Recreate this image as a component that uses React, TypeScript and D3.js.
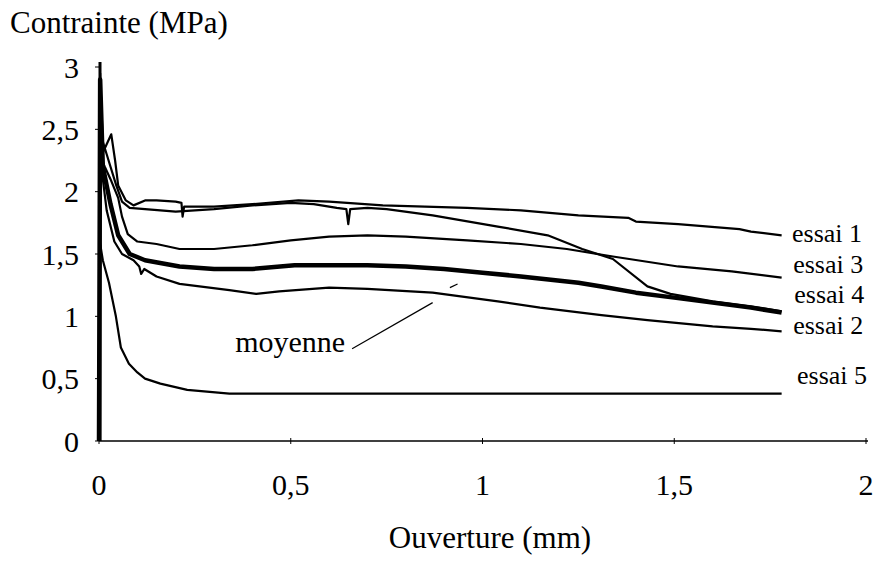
import React from "react";
import * as d3 from "d3";

type Pt = [number, number];

// ouverture (mm), contrainte (MPa)
const essai1: Pt[] = [
  [0, 0], [0.003, 2.95], [0.008, 2.3], [0.02, 2.38], [0.032, 2.46], [0.042, 2.25],
  [0.05, 2.05], [0.07, 1.93], [0.09, 1.89], [0.12, 1.93], [0.15, 1.93], [0.2, 1.92],
  [0.215, 1.91], [0.218, 1.8], [0.222, 1.88], [0.3, 1.88], [0.4, 1.9], [0.52, 1.93],
  [0.6, 1.92], [0.74, 1.89], [0.96, 1.87], [1.1, 1.85], [1.25, 1.81], [1.38, 1.79],
  [1.4, 1.76], [1.51, 1.74], [1.67, 1.7], [1.7, 1.68], [1.78, 1.65],
];
const essai3: Pt[] = [
  [0, 0], [0.003, 2.8], [0.008, 2.25], [0.015, 2.2], [0.03, 2.1], [0.05, 1.95],
  [0.06, 1.8], [0.075, 1.66], [0.1, 1.6], [0.15, 1.58], [0.21, 1.54], [0.3, 1.54],
  [0.4, 1.57], [0.5, 1.61], [0.6, 1.64], [0.7, 1.65], [0.8, 1.64], [0.96, 1.61],
  [1.1, 1.58], [1.22, 1.54], [1.34, 1.48], [1.51, 1.4], [1.65, 1.36], [1.78, 1.31],
];
const essai4: Pt[] = [
  [0, 0], [0.003, 2.9], [0.01, 2.4], [0.02, 2.3], [0.03, 2.2], [0.045, 2.05],
  [0.06, 1.92], [0.08, 1.87], [0.12, 1.86], [0.2, 1.84], [0.3, 1.86], [0.4, 1.89],
  [0.5, 1.91], [0.56, 1.9], [0.62, 1.87], [0.645, 1.86], [0.65, 1.74], [0.655, 1.86],
  [0.7, 1.87], [0.75, 1.86], [0.87, 1.81], [1.04, 1.72], [1.17, 1.65], [1.26, 1.54],
  [1.34, 1.46], [1.43, 1.24], [1.49, 1.18], [1.6, 1.12], [1.7, 1.08], [1.78, 1.04],
];
const essai2: Pt[] = [
  [0, 0], [0.003, 2.7], [0.01, 2.1], [0.02, 1.85], [0.04, 1.6], [0.06, 1.5],
  [0.09, 1.45], [0.105, 1.4], [0.11, 1.34], [0.118, 1.38], [0.15, 1.32], [0.21, 1.26],
  [0.34, 1.21], [0.41, 1.18], [0.47, 1.2], [0.6, 1.23], [0.7, 1.22], [0.87, 1.19],
  [1.04, 1.12], [1.15, 1.07], [1.31, 1.01], [1.43, 0.97], [1.6, 0.92], [1.7, 0.9],
  [1.78, 0.88],
];
const essai5: Pt[] = [
  [0, 0], [0.002, 1.6], [0.01, 1.45], [0.026, 1.27], [0.044, 1.0], [0.057, 0.75],
  [0.078, 0.62], [0.1, 0.55], [0.12, 0.5], [0.16, 0.46], [0.23, 0.41], [0.34, 0.38],
  [0.6, 0.38], [1.0, 0.38], [1.4, 0.38], [1.78, 0.38],
];
const moyenne: Pt[] = [
  [0, 0], [0.003, 2.9], [0.01, 2.2], [0.03, 1.9], [0.05, 1.65], [0.08, 1.5],
  [0.12, 1.45], [0.21, 1.4], [0.3, 1.38], [0.4, 1.38], [0.51, 1.41], [0.6, 1.41],
  [0.7, 1.41], [0.8, 1.4], [0.9, 1.38], [1.0, 1.35], [1.1, 1.32], [1.25, 1.27],
  [1.31, 1.24], [1.4, 1.19], [1.5, 1.15], [1.6, 1.11], [1.7, 1.07], [1.78, 1.03],
];

const seriesNames = ["essai 1", "essai 3", "essai 4", "essai 2", "essai 5"];
const seriesData = [essai1, essai3, essai4, essai2, essai5];
// label anchor (data units) for the names at the right
const labelX = [1.807, 1.81, 1.813, 1.81, 1.82];
const labelY = [1.6, 1.35, 1.105, 0.86, 0.46];

const xTicks = [0, 0.5, 1, 1.5, 2];
const yTicks = [0, 0.5, 1, 1.5, 2, 2.5, 3];
const fmt = (v: number) => String(v).replace(".", ",");

// moyenne label and its leader line (data units)
const moyLabel: Pt = [0.355, 0.71];
const leader1: Pt[] = [[0.66, 0.74], [0.87, 1.11]];
const leader2: Pt[] = [[0.915, 1.23], [0.935, 1.26]];

const W = 884;
const H = 562;
const font = "'Liberation Serif', 'Times New Roman', serif";

export default function App() {
  const x = d3.scaleLinear().domain([0, 2]).range([99, 866]);
  const y = d3.scaleLinear().domain([0, 3]).range([441, 67]);
  const line = d3
    .line<Pt>()
    .x((d) => x(d[0]))
    .y((d) => y(d[1]));

  return (
    <svg
      width={W}
      height={H}
      style={{ position: "absolute", left: 0, top: 0, background: "#fff" }}
      fontFamily={font}
    >
      {/* axes */}
      <line x1={x(0)} x2={x(2) + 2} y1={y(0)} y2={y(0)} stroke="#000" strokeWidth={1.3} />
      <line x1={x(0) + 1} x2={x(0) + 1} y1={y(0)} y2={y(3.04)} stroke="#000" strokeWidth={3} />
      {yTicks.map((t) => (
        <g key={"y" + t}>
          <line x1={x(0) - 4} x2={x(0)} y1={y(t)} y2={y(t)} stroke="#000" strokeWidth={1} />
          <text x={79} y={y(t)} dy="0.35em" textAnchor="end" fontSize={30}>
            {fmt(t)}
          </text>
        </g>
      ))}
      {xTicks.map((t) => (
        <g key={"x" + t}>
          <line x1={x(t)} x2={x(t)} y1={y(0) - 3} y2={y(0) + 3} stroke="#000" strokeWidth={1} />
          <text x={x(t)} y={495} textAnchor="middle" fontSize={30}>
            {fmt(t)}
          </text>
        </g>
      ))}
      <text x={10} y={33} fontSize={31}>
        Contrainte (MPa)
      </text>
      <text x={490} y={548} textAnchor="middle" fontSize={31}>
        Ouverture (mm)
      </text>

      {/* curves */}
      {seriesData.map((d, i) => (
        <path
          key={seriesNames[i]}
          d={line(d) || ""}
          fill="none"
          stroke="#000"
          strokeWidth={2.2}
          strokeLinejoin="round"
        />
      ))}
      <path d={line(moyenne) || ""} fill="none" stroke="#000" strokeWidth={4.5} strokeLinejoin="round" />

      {seriesNames.map((n, i) => (
        <text key={n} x={x(labelX[i])} y={y(labelY[i])} fontSize={26}>
          {n}
        </text>
      ))}

      <text x={x(moyLabel[0])} y={y(moyLabel[1])} fontSize={30}>
        moyenne
      </text>
      <path d={line(leader1) || ""} stroke="#000" strokeWidth={1.2} fill="none" />
      <path d={line(leader2) || ""} stroke="#000" strokeWidth={1.2} fill="none" />
    </svg>
  );
}
